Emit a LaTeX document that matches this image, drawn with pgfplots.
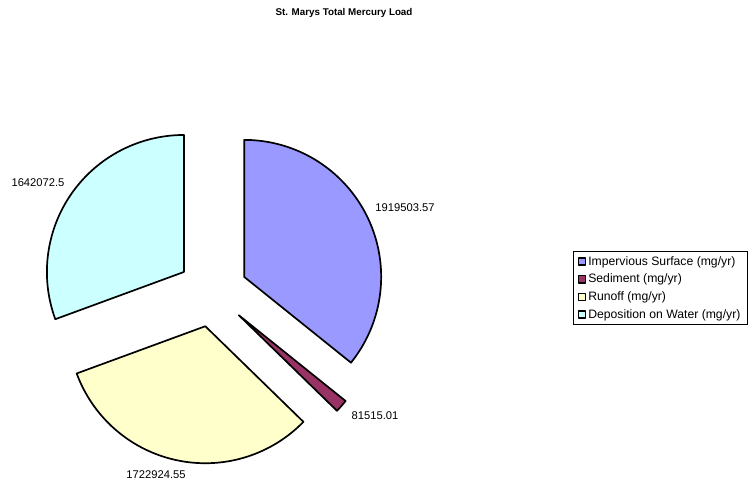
\documentclass[border=0pt]{standalone}
\usepackage{pgfplots}
\pgfplotsset{compat=1.18}
\usepackage{pgfplotstable}
\usepackage{fontspec}
\setmainfont{Liberation Sans}

\definecolor{impcol}{HTML}{9999FF}
\definecolor{sedcol}{HTML}{993366}
\definecolor{runcol}{HTML}{FFFFCC}
\definecolor{depcol}{HTML}{CCFFFF}

\pgfplotstableread[col sep=comma]{
label,value
Impervious Surface (mg/yr),1919503.57
Sediment (mg/yr),81515.01
Runoff (mg/yr),1722924.55
Deposition on Water (mg/yr),1642072.5
}\piedata

\pgfplotstablegetelem{0}{value}\of\piedata \let\vA\pgfplotsretval
\pgfplotstablegetelem{1}{value}\of\piedata \let\vB\pgfplotsretval
\pgfplotstablegetelem{2}{value}\of\piedata \let\vC\pgfplotsretval
\pgfplotstablegetelem{3}{value}\of\piedata \let\vD\pgfplotsretval
\edef\tot{\fpeval{\vA+\vB+\vC+\vD}}
\def\cx{212.6}\def\cy{292}\def\R{137}\def\ex{35}
\edef\sA{90}
\edef\eA{\fpeval{\sA-360*\vA/\tot}}
\edef\sB{\eA}
\edef\eB{\fpeval{\sB-360*\vB/\tot}}
\edef\sC{\eB}
\edef\eC{\fpeval{\sC-360*\vC/\tot}}
\edef\sD{\eC}
\edef\eD{\fpeval{\sD-360*\vD/\tot}}
\edef\axA{\fpeval{\cx+\ex*cosd((\sA+\eA)/2)}}\edef\ayA{\fpeval{\cy-\ex*sind((\sA+\eA)/2)}}
\edef\axB{\fpeval{\cx+\ex*cosd((\sB+\eB)/2)}}\edef\ayB{\fpeval{\cy-\ex*sind((\sB+\eB)/2)}}
\edef\axC{\fpeval{\cx+\ex*cosd((\sC+\eC)/2)}}\edef\ayC{\fpeval{\cy-\ex*sind((\sC+\eC)/2)}}
\edef\axD{\fpeval{\cx+\ex*cosd((\sD+\eD)/2)}}\edef\ayD{\fpeval{\cy-\ex*sind((\sD+\eD)/2)}}

\begin{document}
\begin{tikzpicture}
\begin{axis}[
  width=749pt, height=482pt, scale only axis, hide axis,
  xmin=0, xmax=749, ymin=0, ymax=482, y dir=reverse, clip=false,
  legend image code/.code={\draw[#1, line width=1.4pt] (0.7pt,-3.6pt) rectangle (7.7pt,3.6pt);},
  legend style={at={(573/749,1-251/482)}, anchor=north west, draw=black, line width=0.8pt,
    font=\fontsize{12.2}{14}\selectfont, cells={anchor=west}, row sep=3.3pt,
    inner xsep=4.5pt, inner ysep=3pt},
]
\path (axis cs:0,0) rectangle (axis cs:749,482);
\addplot[fill=impcol, draw=black, line width=1.7pt, line join=round, domain=\eA:\sA, samples=90]
  ({\axA+\R*cos(x)},{\ayA-\R*sin(x)}) -- (axis cs:\axA,\ayA) -- cycle;
\addlegendentry{Impervious Surface (mg/yr)}
\addplot[fill=sedcol, draw=black, line width=1.7pt, line join=round, domain=\eB:\sB, samples=10]
  ({\axB+\R*cos(x)},{\ayB-\R*sin(x)}) -- (axis cs:\axB,\ayB) -- cycle;
\addlegendentry{Sediment (mg/yr)}
\addplot[fill=runcol, draw=black, line width=1.7pt, line join=round, domain=\eC:\sC, samples=90]
  ({\axC+\R*cos(x)},{\ayC-\R*sin(x)}) -- (axis cs:\axC,\ayC) -- cycle;
\addlegendentry{Runoff (mg/yr)}
\addplot[fill=depcol, draw=black, line width=1.7pt, line join=round, domain=\eD:\sD, samples=90]
  ({\axD+\R*cos(x)},{\ayD-\R*sin(x)}) -- (axis cs:\axD,\ayD) -- cycle;
\addlegendentry{Deposition on Water (mg/yr)}
\node[font=\fontsize{9.8}{12}\selectfont\bfseries] at (axis cs:344,13) {St. Marys Total Mercury Load};
\begin{scope}[every node/.style={font=\fontsize{11.2}{13}\selectfont}]
\node at (axis cs:405,208) {1919503.57};
\node at (axis cs:375,416) {81515.01};
\node at (axis cs:156,475) {1722924.55};
\node at (axis cs:38,183) {1642072.5};
\end{scope}
\end{axis}
\end{tikzpicture}
\end{document}
